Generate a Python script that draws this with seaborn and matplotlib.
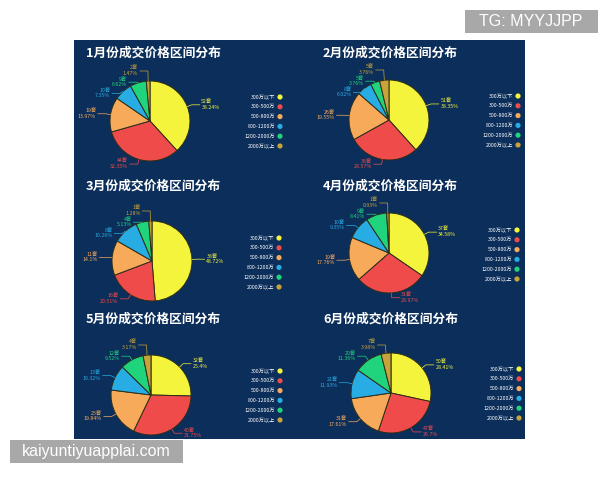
import numpy as np
import matplotlib
matplotlib.use("Agg")
import matplotlib.pyplot as plt
import seaborn as sns
from matplotlib.patches import Rectangle

# ---------- данные ----------
months = ["1月", "2月", "3月", "4月", "5月", "6月"]
categories = ["300万以下", "300-500万", "500-800万", "800-1200万", "1200-2000万", "2000万以上"]

jan = [52, 44, 19, 10, 9, 2]
feb = [51, 38, 26, 8, 5, 5]
mar = [38, 16, 11, 8, 4, 1]
apr = [37, 31, 19, 10, 9, 1]
may = [32, 40, 25, 13, 12, 4]
jun = [50, 47, 31, 21, 20, 7]

series = [jan, feb, mar, apr, may, jun]

# ---------- стиль ----------
sns.set_theme(style="white")
plt.rcParams["font.family"] = ["Noto Sans CJK SC", "DejaVu Sans"]

palette = sns.color_palette(["#f4f43c", "#ef4b4b", "#f6aa5a", "#27ace3", "#1fd47c", "#c7a33a"])
panel_color = "#0c2e5a"

# позиции (в пикселях) для каждого месяца: центр круга, легенда, заголовок
W, H = 600, 480
R = 40
pie_centers = [(150, 121), (389, 120), (152, 261), (389, 253), (151, 395), (391, 393)]
legend_pos = [(280, 97), (518, 96), (279, 238), (517, 230), (280, 371), (519, 369)]
title_pos = [(86, 53), (323, 53), (86, 186), (323, 186), (86, 319), (323, 319)]
legend_step = 9.8


def fmt_pct(v):
    s = f"{v:.2f}".rstrip("0").rstrip(".")
    return s + "%"


def draw_pie(fig, counts, cx, cy):
    aw, ah = 200, 130
    ax = fig.add_axes([(cx - aw / 2) / W, 1 - (cy + ah / 2) / H, aw / W, ah / H])
    wedges, _ = ax.pie(
        counts,
        colors=palette,
        startangle=90,
        counterclock=False,
        radius=1,
        wedgeprops=dict(edgecolor="#2e2e18", linewidth=0.7),
    )
    ax.set_xlim(-aw / 2 / R, aw / 2 / R)
    ax.set_ylim(-ah / 2 / R, ah / 2 / R)
    ax.set_aspect("equal")
    ax.axis("off")
    ax.patch.set_alpha(0)

    total = sum(counts)
    labels = []
    for i, w in enumerate(wedges):
        mid = np.deg2rad((w.theta1 + w.theta2) / 2)
        x, y = np.cos(mid), np.sin(mid)
        labels.append({"i": i, "x": x, "y": y, "ly": 1.12 * y,
                       "side": 1 if x >= 0 else -1})

    # раздвигаем подписи по вертикали (вверх, затем ограничение сверху)
    gap, top = 0.28, 1.25
    for side in (1, -1):
        group = sorted([l for l in labels if l["side"] == side], key=lambda l: l["ly"])
        for k in range(1, len(group)):
            if group[k]["ly"] < group[k - 1]["ly"] + gap:
                group[k]["ly"] = group[k - 1]["ly"] + gap
        if group and group[-1]["ly"] > top:
            group[-1]["ly"] = top
            for k in range(len(group) - 2, -1, -1):
                group[k]["ly"] = min(group[k]["ly"], group[k + 1]["ly"] - gap,
                                     max(1.12 * group[k]["y"], group[k]["ly"] - 10))
                group[k]["ly"] = min(group[k]["ly"], group[k + 1]["ly"] - gap)

    for l in labels:
        i = l["i"]
        col = palette[i]
        p0 = (l["x"], l["y"])
        p1 = (1.12 * l["x"], l["ly"])
        p2 = (p1[0] + 0.2 * l["side"], l["ly"])
        ax.plot([p0[0], p1[0], p2[0]], [p0[1], p1[1], p2[1]],
                color=col, lw=0.5, clip_on=False)
        pct = counts[i] / total * 100
        ax.text(p2[0] + 0.04 * l["side"], l["ly"],
                f"{counts[i]}套\n{fmt_pct(pct)}",
                color=col, fontsize=3.8, linespacing=1.0,
                ha="left" if l["side"] > 0 else "right", va="center",
                clip_on=False)
    return ax


fig = plt.figure(figsize=(6, 4.8), dpi=100)
fig.patch.set_facecolor("white")

bg = fig.add_axes([0, 0, 1, 1])
bg.set_xlim(0, W)
bg.set_ylim(H, 0)
bg.axis("off")

bg.add_patch(Rectangle((74, 40), 451, 399, facecolor=panel_color, edgecolor="none"))

# водяные знаки
bg.add_patch(Rectangle((465, 10), 133, 23, facecolor="#a8a8a8", edgecolor="none"))
bg.text(531, 21.5, "TG: MYYJJPP", color="white", fontsize=11.5,
        family=["Liberation Sans", "DejaVu Sans"], ha="center", va="center")
bg.add_patch(Rectangle((10, 440), 173, 23, facecolor="#a8a8a8", edgecolor="none"))
bg.text(96, 451.5, "kaiyuntiyuapplai.com", color="white", fontsize=11.5,
        family=["Liberation Sans", "DejaVu Sans"], ha="center", va="center")

for m, counts, (cx, cy), (lx, ly), (tx, ty) in zip(months, series, pie_centers, legend_pos, title_pos):
    bg.text(tx, ty, f"{m}份成交价格区间分布", color="white", fontsize=9.2,
            fontweight="semibold", ha="left", va="center")
    for k, cat in enumerate(categories):
        yy = ly + k * legend_step
        bg.scatter(lx, yy, s=14, color=palette[k], edgecolors="none")
        bg.text(lx - 5, yy, cat, color="white", fontsize=3.8, ha="right", va="center")
    draw_pie(fig, counts, cx, cy)

fig.savefig("out.png", dpi=100)
